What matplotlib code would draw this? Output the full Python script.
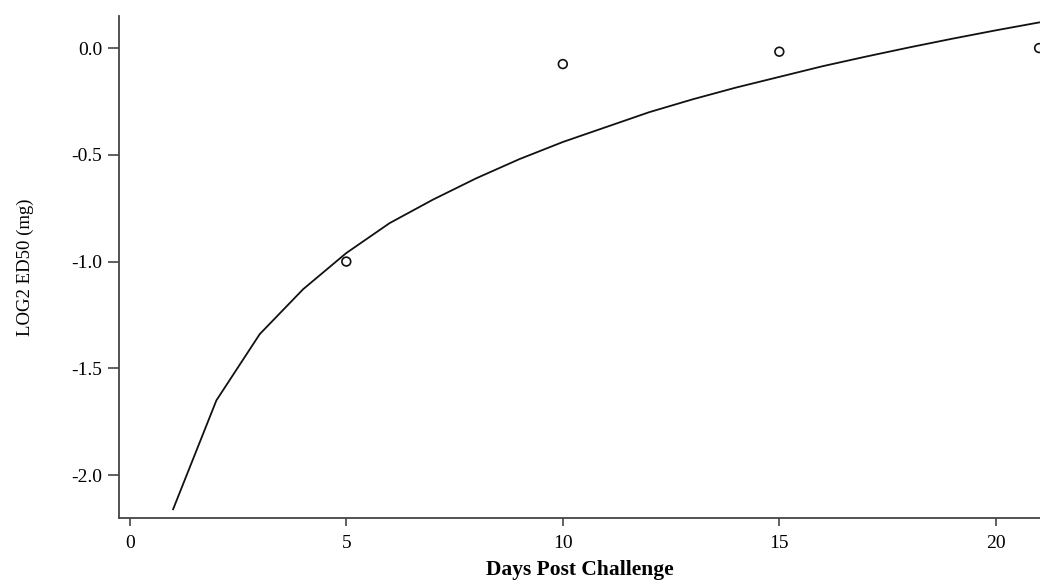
import matplotlib
matplotlib.use("Agg")
import matplotlib.pyplot as plt

# Fitted curve at each whole day
days = list(range(1, 22))
fit = [-2.16, -1.65, -1.34, -1.13, -0.96, -0.82, -0.71, -0.61, -0.52, -0.44,
       -0.37, -0.30, -0.24, -0.185, -0.135, -0.085, -0.04, 0.003, 0.044, 0.083, 0.12]

# Observed points
obs_days = [5, 10, 15, 21]
obs_ed50 = [-1.0, -0.075, -0.017, 0.0]

x_ticks = [0, 5, 10, 15, 20]
y_ticks = [0.0, -0.5, -1.0, -1.5, -2.0]

plt.rcParams["font.family"] = ["Liberation Serif", "DejaVu Serif"]

fig = plt.figure(figsize=(10.4, 5.83), dpi=100)
ax = fig.add_axes([0.1144, 0.1115, 0.8856, 0.861])

ax.plot(days, fit, color="#111111", lw=1.3)
ax.scatter(obs_days, obs_ed50, s=40, facecolors="none", edgecolors="#111111",
           linewidths=1.2, zorder=3, clip_on=False)

ax.set_xlim(-0.25, 21.02)
ax.set_ylim(-2.201, 0.15)
ax.set_xticks(x_ticks)
ax.set_yticks(y_ticks)
ax.set_yticklabels([f"{v:.1f}" for v in y_ticks])

for s in ["top", "right"]:
    ax.spines[s].set_visible(False)
for s in ["left", "bottom"]:
    ax.spines[s].set_color("#444444")
    ax.spines[s].set_linewidth(1.3)

ax.tick_params(axis="y", length=8, width=1.2, color="#444444", labelsize=14, pad=4)
ax.tick_params(axis="x", length=6, width=1.2, color="#444444", labelsize=14, pad=6)

ax.set_xlabel("Days Post Challenge", fontsize=15.5, fontweight="semibold", labelpad=6)
ax.set_ylabel("LOG2 ED50 (mg)", fontsize=13.5, labelpad=27)

fig.savefig("out.png", dpi=100)
